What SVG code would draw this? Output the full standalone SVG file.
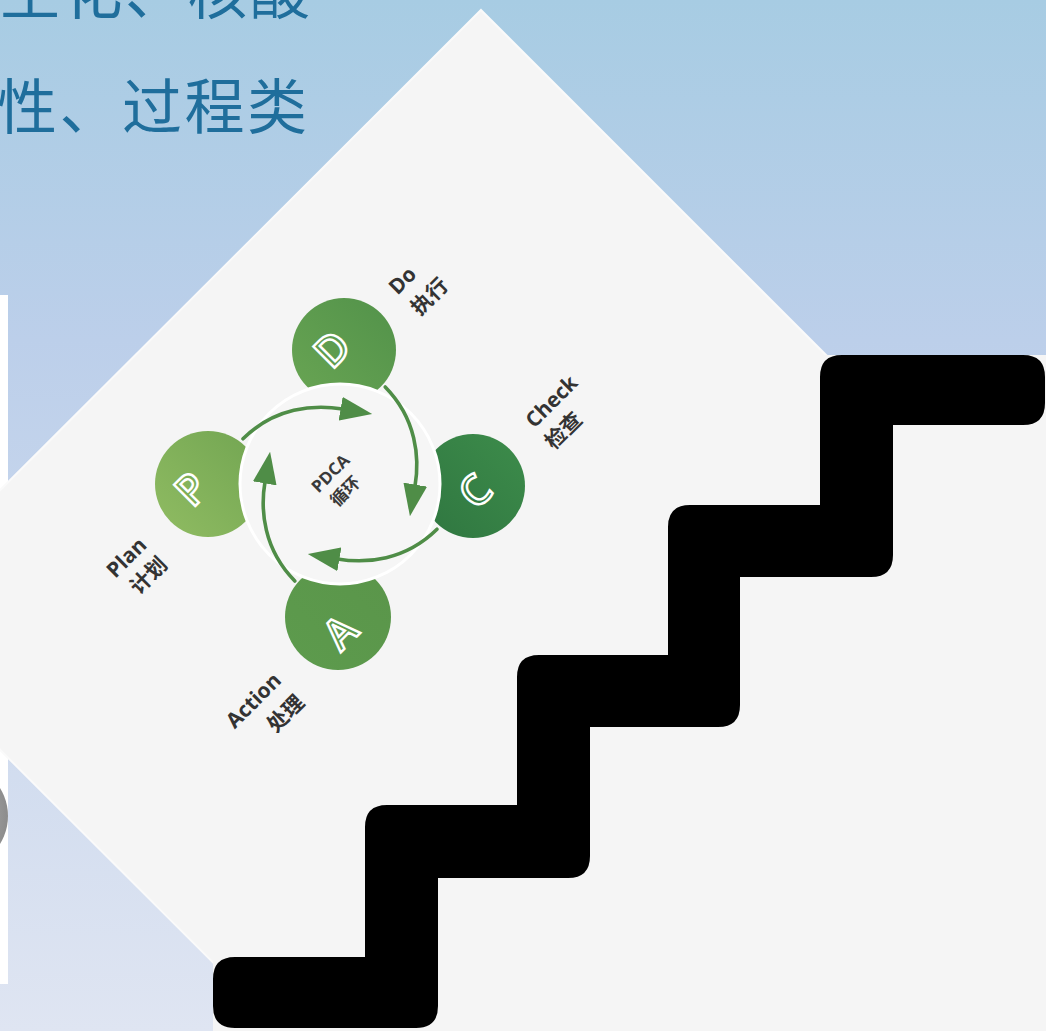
<svg xmlns="http://www.w3.org/2000/svg" width="1046" height="1031" viewBox="0 0 1046 1031">
  <defs>
    <linearGradient id="bg" x1="0" y1="0" x2="0" y2="1">
      <stop offset="0" stop-color="#a7cce3"/>
      <stop offset="0.33" stop-color="#bccfea"/>
      <stop offset="1" stop-color="#dfe5f2"/>
    </linearGradient>
    <linearGradient id="gP" x1="0" y1="1" x2="1" y2="0">
      <stop offset="0" stop-color="#90bc62"/>
      <stop offset="1" stop-color="#72a552"/>
    </linearGradient>
    <linearGradient id="gD" x1="0" y1="1" x2="1" y2="0">
      <stop offset="0" stop-color="#69a553"/>
      <stop offset="1" stop-color="#52924a"/>
    </linearGradient>
    <linearGradient id="gC" x1="0" y1="1" x2="1" y2="0">
      <stop offset="0" stop-color="#2f7640"/>
      <stop offset="1" stop-color="#3d8c4b"/>
    </linearGradient>
    <linearGradient id="gA" x1="0" y1="1" x2="1" y2="0">
      <stop offset="0" stop-color="#5d9b4d"/>
      <stop offset="1" stop-color="#5a954a"/>
    </linearGradient>
    <radialGradient id="gGray" cx="0.3" cy="0.5" r="0.7">
      <stop offset="0" stop-color="#d6d6d6"/>
      <stop offset="1" stop-color="#8c8c8c"/>
    </radialGradient>
    <marker id="arrow" viewBox="0 0 32 24" refX="2" refY="12" markerWidth="32" markerHeight="24" markerUnits="userSpaceOnUse" orient="auto">
      <path d="M0,0 L32,12 L0,24 Z" fill="#4f8d47"/>
    </marker>
    <style>
      .head { font-family: "Noto Sans CJK SC", "Noto Sans", sans-serif; font-size: 60px; fill: #1f6e9c; }
      .lbl { font-family: "Open Sans", "Noto Sans CJK SC", sans-serif; font-weight: 700; font-size: 21px; fill: #333333; }
      .ctr { font-family: "Open Sans", "Noto Sans CJK SC", sans-serif; font-weight: 700; font-size: 17px; fill: #3a3a3a; }
      .letter { font-family: "Open Sans", "Liberation Sans", sans-serif; font-weight: 600; font-size: 42px; stroke: #ffffff; stroke-width: 2.4; }
      .arc { fill: none; stroke: #4f8d47; stroke-width: 3.6; stroke-linecap: round; marker-end: url(#arrow); }
    </style>
  </defs>

  <rect x="0" y="0" width="1046" height="1031" fill="url(#bg)"/>

  <g id="heading">
    <text class="head" x="0" y="14" letter-spacing="2.5">生化、核酸</text>
    <text class="head" x="-3" y="129" letter-spacing="2.5">性、过程类</text>
  </g>

  <g id="left-card">
    <rect x="-10" y="295" width="18" height="689" fill="#ffffff"/>
    <circle cx="-45" cy="816" r="53" fill="url(#gGray)"/>
  </g>

  <polygon id="diamond" points="481,10 1091,620 481,1230 -130,620" fill="#f5f5f5" stroke="#fafafa" stroke-width="2"/>

  <g id="staircase">
    <rect x="213" y="355" width="833" height="676" fill="#f5f5f5"/>
    <path fill="#000000" d="M213,1006 L213,979 Q213,957 235,957 L365,957 L365,827 Q365,805 387,805 L517,805 L517,677 Q517,655 539,655 L668,655 L668,527 Q668,505 690,505 L820,505 L820,377 Q820,355 842,355 L1023,355 Q1045,355 1045,377 L1045,403 Q1045,425 1023,425 L893,425 L893,555 Q893,577 871,577 L740,577 L740,705 Q740,727 718,727 L590,727 L590,856 Q590,878 568,878 L438,878 L438,1006 Q438,1028 416,1028 L235,1028 Q213,1028 213,1006 Z"/>
  </g>

  <g id="node-P">
    <circle cx="208" cy="484" r="53" fill="url(#gP)"/>
    <text class="letter" x="190" y="488" fill="#7cad57" text-anchor="middle" dominant-baseline="central" transform="rotate(-45 190 488)">P</text>
  </g>
  <g id="node-D">
    <circle cx="344" cy="350" r="52" fill="url(#gD)"/>
    <text class="letter" x="331" y="348" fill="#5e9c4f" text-anchor="middle" dominant-baseline="central" transform="rotate(-45 331 348)">D</text>
  </g>
  <g id="node-C">
    <circle cx="473" cy="486" r="52" fill="url(#gC)"/>
    <text class="letter" x="474" y="490" fill="#357f44" text-anchor="middle" dominant-baseline="central" transform="rotate(-45 474 490)">C</text>
  </g>
  <g id="node-A">
    <circle cx="338" cy="617" r="53" fill="url(#gA)"/>
    <text class="letter" x="339" y="631" fill="#5c994c" text-anchor="middle" dominant-baseline="central" transform="rotate(-45 339 631)">A</text>
  </g>

  <g id="node-center">
    <circle cx="340" cy="484" r="100" fill="#f6f6f6" stroke="#ffffff" stroke-width="3"/>
    <text class="ctr" x="330" y="473" text-anchor="middle" dominant-baseline="central" transform="rotate(-45 330 473)">PDCA</text>
    <text class="ctr" x="345" y="491" text-anchor="middle" dominant-baseline="central" transform="rotate(-45 345 491)">循环</text>
  </g>

  <g id="connectors">
    <path class="arc" d="M243,438.8 C274.8,407.6 313.5,404.1 342.6,409.05"/>
    <path class="arc" d="M243,438.8 C274.8,407.6 313.5,404.1 342.6,409.05" transform="rotate(90 340 484)"/>
    <path class="arc" d="M243,438.8 C274.8,407.6 313.5,404.1 342.6,409.05" transform="rotate(180 340 484)"/>
    <path class="arc" d="M243,438.8 C274.8,407.6 313.5,404.1 342.6,409.05" transform="rotate(270 340 484)"/>
  </g>

  <g id="labels">
    <text class="lbl" x="402" y="280" text-anchor="middle" dominant-baseline="central" transform="rotate(-45 402 280)">Do</text>
    <text class="lbl" x="429" y="296" text-anchor="middle" dominant-baseline="central" transform="rotate(-45 429 296)">执行</text>
    <text class="lbl" x="551" y="401" text-anchor="middle" dominant-baseline="central" transform="rotate(-45 551 401)">Check</text>
    <text class="lbl" x="563" y="430" text-anchor="middle" dominant-baseline="central" transform="rotate(-45 563 430)">检查</text>
    <text class="lbl" x="126" y="557" text-anchor="middle" dominant-baseline="central" transform="rotate(-45 126 557)">Plan</text>
    <text class="lbl" x="148" y="575" text-anchor="middle" dominant-baseline="central" transform="rotate(-45 148 575)">计划</text>
    <text class="lbl" x="253" y="700" text-anchor="middle" dominant-baseline="central" transform="rotate(-45 253 700)">Action</text>
    <text class="lbl" x="285" y="713" text-anchor="middle" dominant-baseline="central" transform="rotate(-45 285 713)">处理</text>
  </g>
</svg>
